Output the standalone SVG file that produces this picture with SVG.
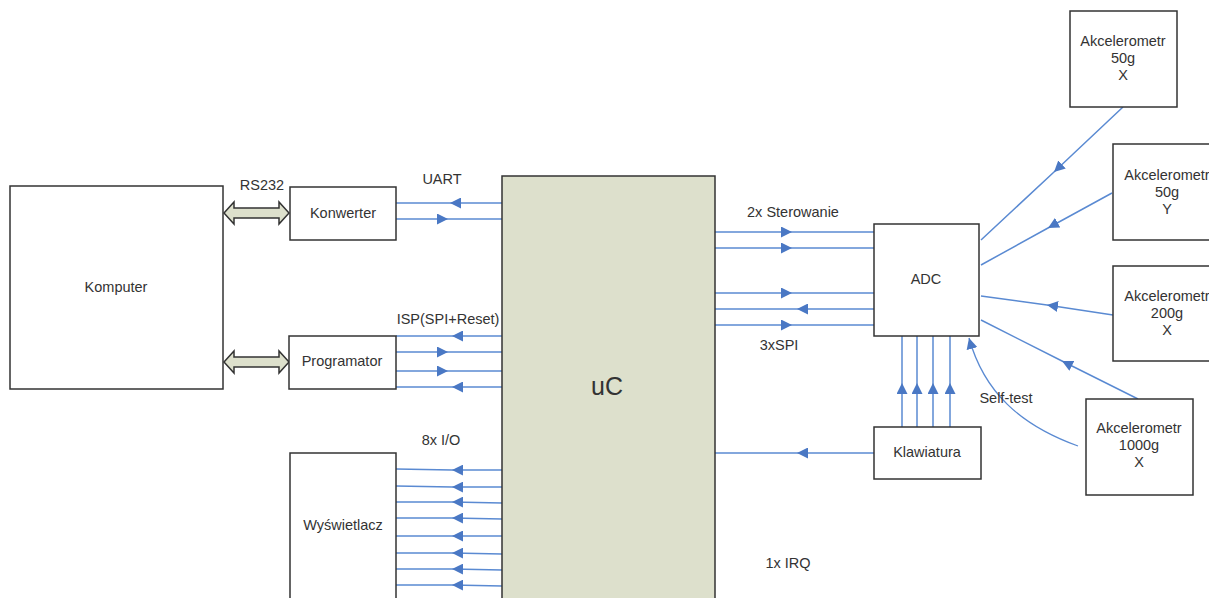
<svg xmlns="http://www.w3.org/2000/svg" width="1209" height="598" viewBox="0 0 1209 598">
<style>
.box{fill:#fff;stroke:#333;stroke-width:1.5}
.uc{fill:#dde0cc;stroke:#333;stroke-width:1.5}
.t{font-family:"Liberation Sans",Arial,sans-serif;font-size:14.5px;fill:#333;text-anchor:middle}
.w{fill:none;stroke:#5a8ad2;stroke-width:1.5;marker-mid:url(#ah)}
.we{fill:none;stroke:#5a8ad2;stroke-width:1.3;marker-end:url(#ah)}
.fat{fill:#dde0cc;stroke:#333;stroke-width:1.5}
</style>
<defs>
<marker id="ah" viewBox="0 0 10 10" refX="10" refY="5" markerWidth="11" markerHeight="11" markerUnits="userSpaceOnUse" orient="auto">
<path d="M0,0 L10,5 L0,10 z" fill="#4a78c4"/>
</marker>
</defs>
<rect width="1209" height="598" fill="#fff"/>

<g id="connectors">
<path class="fat" d="M224,213 L234,202 L234,208 L279,208 L279,202 L289,213 L279,224 L279,218 L234,218 L234,224 Z"/>
<path class="fat" d="M224,362 L234,351 L234,357 L279,357 L279,351 L289,362 L279,373 L279,367 L234,367 L234,373 Z"/>
<path class="w" d="M502,203 L450,203 L396,203"/>
<path class="w" d="M396,219 L448,219 L502,219"/>
<path class="w" d="M502,336 L452,336 L396,336"/>
<path class="w" d="M396,352 L448,352 L502,352"/>
<path class="w" d="M396,371 L448,371 L502,371"/>
<path class="w" d="M502,387 L452,387 L396,387"/>
<path class="w" d="M502,470 L452,470 L396,469"/>
<path class="w" d="M502,487 L452,487 L396,486"/>
<path class="w" d="M502,503 L452,502 L396,502"/>
<path class="w" d="M502,519 L452,518 L396,518"/>
<path class="w" d="M502,536 L452,536 L396,536"/>
<path class="w" d="M502,554 L452,553 L396,553"/>
<path class="w" d="M502,570 L452,569 L396,569"/>
<path class="w" d="M502,586 L452,585 L396,585"/>
<path class="w" d="M715,232 L792,232 L874,232"/>
<path class="w" d="M715,248 L792,248 L874,248"/>
<path class="w" d="M715,293 L792,293 L874,293"/>
<path class="w" d="M874,309 L797,309 L715,309"/>
<path class="w" d="M715,325 L792,325 L874,325"/>
<path class="w" d="M874,453 L797,453 L715,453"/>
<path class="w" d="M902,427 L902,383 L902,336"/>
<path class="w" d="M917,427 L917,383 L917,336"/>
<path class="w" d="M933,427 L933,383 L933,336"/>
<path class="w" d="M950,427 L950,383 L950,336"/>
<path class="w" d="M1123,107 L1054,172 L981,240"/>
<path class="w" d="M1112,193 L1048,228 L981,265"/>
<path class="w" d="M1113,315 L1047,305 L981,296"/>
<path class="w" d="M1138,399 L1062,361 L981,320"/>
<path class="we" d="M1078,446 C1020,425 984,392 969,338"/>
</g>

<g id="komputer"><rect class="box" x="10" y="186" width="213" height="203"/><text class="t" x="116" y="292">Komputer</text></g>
<g id="konwerter"><rect class="box" x="290" y="187" width="106" height="53"/><text class="t" x="343" y="218">Konwerter</text></g>
<g id="programator"><rect class="box" x="289" y="336" width="107" height="53"/><text class="t" x="342" y="366">Programator</text></g>
<g id="wyswietlacz"><rect class="box" x="290" y="453" width="106" height="160"/><text class="t" x="343" y="530">Wyświetlacz</text></g>
<g id="uc"><rect class="uc" x="502" y="176" width="213" height="440"/><text class="t" x="607" y="395" style="font-size:25px">uC</text></g>
<g id="adc"><rect class="box" x="874" y="224" width="105" height="112"/><text class="t" x="926" y="284">ADC</text></g>
<g id="klawiatura"><rect class="box" x="874" y="427" width="107" height="52"/><text class="t" x="927" y="457">Klawiatura</text></g>
<g id="akc50x"><rect class="box" x="1070" y="11" width="107" height="96"/><text class="t" x="1123" y="46">Akcelerometr</text><text class="t" x="1123" y="63">50g</text><text class="t" x="1123" y="80">X</text></g>
<g id="akc50y"><rect class="box" x="1113" y="144" width="110" height="96"/><text class="t" x="1167" y="180">Akcelerometr</text><text class="t" x="1167" y="197">50g</text><text class="t" x="1167" y="214">Y</text></g>
<g id="akc200x"><rect class="box" x="1113" y="266" width="110" height="95"/><text class="t" x="1167" y="301">Akcelerometr</text><text class="t" x="1167" y="318">200g</text><text class="t" x="1167" y="335">X</text></g>
<g id="akc1000x"><rect class="box" x="1086" y="399" width="107" height="96"/><text class="t" x="1139" y="433">Akcelerometr</text><text class="t" x="1139" y="450">1000g</text><text class="t" x="1139" y="467">X</text></g>

<g id="labels">
<text class="t" x="262" y="190">RS232</text>
<text class="t" x="442" y="184">UART</text>
<text class="t" x="448" y="324">ISP(SPI+Reset)</text>
<text class="t" x="441" y="445">8x I/O</text>
<text class="t" x="793" y="217">2x Sterowanie</text>
<text class="t" x="779" y="350">3xSPI</text>
<text class="t" x="1006" y="403">Self-test</text>
<text class="t" x="788" y="568">1x IRQ</text>
</g>
</svg>
